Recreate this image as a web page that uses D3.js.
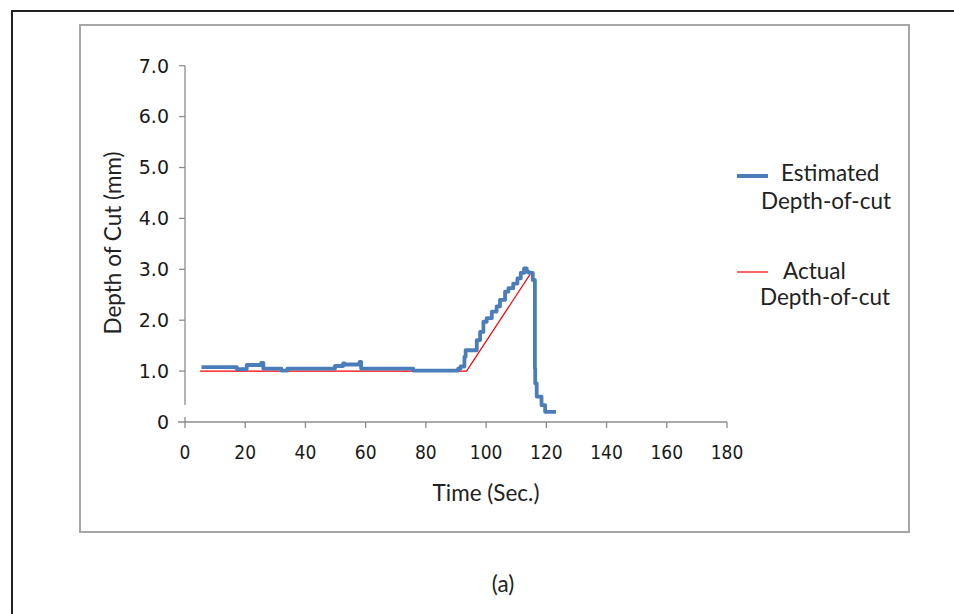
<!DOCTYPE html>
<html>
<head>
<meta charset="utf-8">
<script src="https://cdn.jsdelivr.net/npm/d3@7"></script>
<style>
  html, body { margin: 0; padding: 0; background: #fff; }
  svg { display: block; }
</style>
</head>
<body>
<svg id="chart" width="954" height="614"></svg>
<script>
// ---- data ----
const xTicks = [0, 20, 40, 60, 80, 100, 120, 140, 160, 180];
const yTicks = [1, 2, 3, 4, 5, 6, 7];
const yTickLabels = ["1.0", "2.0", "3.0", "4.0", "5.0", "6.0", "7.0"];

const estimatedTime = [5.5,17.2,17.2,20.5,20.5,25.3,26,26.8,32,32.5,34,34.3,49.8,50.5,52.5,53,55,58,58.5,59.3,75.8,76.2,90.7,91.5,92.8,93.2,94.6,96.9,98,99.1,100.2,101.9,103.5,104.6,106.3,107.4,109,110.4,111.5,112.6,113.5,114.2,115.5,116.2,116.3,116.8,118.4,119.6,120.1,123.2];
const estimatedDepth = [1.08,1.08,1.04,1.04,1.12,1.12,1.16,1.05,1.05,1.01,1.01,1.05,1.05,1.10,1.10,1.15,1.13,1.13,1.18,1.05,1.05,1.01,1.01,1.05,1.09,1.28,1.41,1.41,1.61,1.77,1.97,2.04,2.17,2.27,2.40,2.56,2.63,2.72,2.82,2.93,3.02,2.95,2.93,2.79,1.05,0.76,0.50,0.33,0.20,0.20];

const actualTime = [5, 93.5, 114.6];
const actualDepth = [1.0, 1.0, 2.9];

const seriesNames = ["Estimated", "Actual"];
const xTitle = "Time (Sec.)";
const yTitle = "Depth of Cut (mm)";
const caption = "(a)";

// ---- drawing ----
const svg = d3.select("#chart");
const tickFont = "'DejaVu Sans', Verdana, sans-serif";
const tickFontX = "'DejaVu Sans Condensed', 'DejaVu Sans', Verdana, sans-serif";
const textFont = "Lato, 'Open Sans', Calibri, sans-serif";
const textSize = 22.5;
const tickColor = "#1a1a1a";

// outer frame (top + left)
svg.append("path")
  .attr("d", "M12,614 V11 H954")
  .attr("fill", "none").attr("stroke", "#222").attr("stroke-width", 2);

// inner chart box
svg.append("rect")
  .attr("x", 80).attr("y", 25).attr("width", 829).attr("height", 507)
  .attr("fill", "#fff").attr("stroke", "#a6a6a6").attr("stroke-width", 2);

const x = d3.scaleLinear().domain([0, 180]).range([185, 727]);
const y = d3.scaleLinear().domain([0, 7]).range([422, 65.7]);

const axisColor = "#8c8c8c";

// y axis line (broken near 0)
svg.append("line")
  .attr("x1", x(0)).attr("x2", x(0))
  .attr("y1", y(7)).attr("y2", 405)
  .attr("stroke", axisColor).attr("stroke-width", 1.3);

// y ticks
const yAxisG = svg.append("g");
yAxisG.selectAll("line").data(yTicks).join("line")
  .attr("x1", x(0) - 6).attr("x2", x(0))
  .attr("y1", d => y(d)).attr("y2", d => y(d))
  .attr("stroke", axisColor).attr("stroke-width", 1.3);
yAxisG.selectAll("text").data(yTicks).join("text")
  .attr("x", x(0) - 16).attr("y", d => y(d))
  .attr("dy", "0.36em")
  .attr("text-anchor", "end")
  .attr("font-family", tickFont).attr("font-size", 19).attr("fill", tickColor)
  .text((d, i) => yTickLabels[i]);
// zero label
svg.append("text")
  .attr("x", x(0) - 16).attr("y", y(0)).attr("dy", "0.36em")
  .attr("text-anchor", "end")
  .attr("font-family", tickFont).attr("font-size", 19).attr("fill", tickColor)
  .text("0");

// x axis line
svg.append("line")
  .attr("x1", x(0) - 7).attr("x2", x(180))
  .attr("y1", y(0)).attr("y2", y(0))
  .attr("stroke", axisColor).attr("stroke-width", 1.3);
const xAxisG = svg.append("g");
xAxisG.selectAll("line").data(xTicks).join("line")
  .attr("x1", d => x(d)).attr("x2", d => x(d))
  .attr("y1", d => d === 0 ? y(0) - 5 : y(0)).attr("y2", y(0) + 6)
  .attr("stroke", axisColor).attr("stroke-width", 1.3);
xAxisG.selectAll("text").data(xTicks).join("text")
  .attr("x", d => x(d)).attr("y", 452).attr("dy", "0.36em")
  .attr("text-anchor", "middle")
  .attr("font-family", tickFontX).attr("font-size", 19).attr("fill", tickColor)
  .text(d => d);

// axis titles
svg.append("text")
  .attr("x", 486).attr("y", 493).attr("dy", "0.36em")
  .attr("text-anchor", "middle")
  .attr("font-family", textFont).attr("font-size", textSize).attr("fill", "#222")
  .text(xTitle);
svg.append("text")
  .attr("transform", "translate(113,243) rotate(-90)")
  .attr("dy", "0.36em")
  .attr("text-anchor", "middle")
  .attr("font-family", textFont).attr("font-size", textSize).attr("fill", "#222")
  .text(yTitle);

// lines
const line = d3.line().x(d => x(d[0])).y(d => y(d[1]));
const actualPts = actualTime.map((t, i) => [t, actualDepth[i]]);
const estPts = estimatedTime.map((t, i) => [t, estimatedDepth[i]]);

svg.append("path").datum(actualPts)
  .attr("d", line).attr("fill", "none")
  .attr("stroke", "#ff0000").attr("stroke-width", 1.2);
svg.append("path").datum(estPts)
  .attr("d", d3.line().x(d => x(d[0])).y(d => y(d[1])).curve(d3.curveStepBefore))
  .attr("fill", "none")
  .attr("stroke", "#4a7ebb").attr("stroke-width", 3.8)
  .attr("stroke-linejoin", "round");

// legend
const lg = svg.append("g");
lg.append("line").attr("x1", 737).attr("x2", 768).attr("y1", 176).attr("y2", 176)
  .attr("stroke", "#4a7ebb").attr("stroke-width", 4);
lg.append("text").attr("x", 781).attr("y", 173).attr("dy", "0.36em")
  .attr("font-family", textFont).attr("font-size", textSize).attr("fill", "#222")
  .text(seriesNames[0]);
lg.append("text").attr("x", 761).attr("y", 201).attr("dy", "0.36em")
  .attr("font-family", textFont).attr("font-size", textSize).attr("fill", "#222")
  .text("Depth-of-cut");
lg.append("line").attr("x1", 737).attr("x2", 768).attr("y1", 272).attr("y2", 272)
  .attr("stroke", "#ff0000").attr("stroke-width", 1.2);
lg.append("text").attr("x", 783).attr("y", 271).attr("dy", "0.36em")
  .attr("font-family", textFont).attr("font-size", textSize).attr("fill", "#222")
  .text(seriesNames[1]);
lg.append("text").attr("x", 760).attr("y", 297).attr("dy", "0.36em")
  .attr("font-family", textFont).attr("font-size", textSize).attr("fill", "#222")
  .text("Depth-of-cut");

// caption
svg.append("text")
  .attr("x", 503).attr("y", 584).attr("dy", "0.36em")
  .attr("text-anchor", "middle")
  .attr("font-family", textFont).attr("font-size", textSize).attr("fill", "#222")
  .text(caption);
</script>
</body>
</html>
